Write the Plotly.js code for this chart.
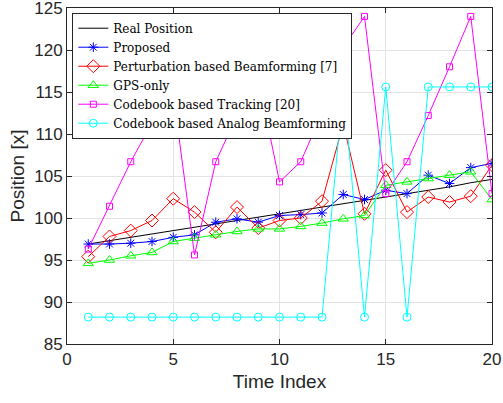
<!DOCTYPE html>
<html>
<head>
<meta charset="utf-8">
<script src="https://cdn.plot.ly/plotly-3.0.1.min.js"></script>
<style>
  html, body { margin: 0; padding: 0; background: #fff; }
  #chart { width: 503px; height: 403px; }
</style>
</head>
<body>
<div id="chart"></div>
<script>
// Time steps
const timeIndex = [1, 2, 3, 4, 5, 6, 7, 8, 9, 10, 11, 12, 13, 14, 15, 16, 17, 18, 19, 20];

// Position estimates per method
const realPosition = [96.9, 97.3, 97.7, 98.1, 98.5, 98.9, 99.3, 99.7, 100.1, 100.5,
                      100.9, 101.3, 101.7, 102.1, 102.5, 102.9, 103.3, 103.7, 104.2, 104.6];
const proposed = [96.9, 96.9, 97.0, 97.2, 97.7, 98.0, 99.5, 99.9, 99.5, 100.3,
                  100.4, 100.6, 102.8, 102.2, 103.3, 102.9, 105.1, 104.1, 106.0, 106.5];
const perturbation = [95.4, 97.8, 98.5, 99.7, 102.3, 100.7, 98.3, 101.3, 98.8, 99.7,
                      100.0, 102.0, 111.2, 100.5, 105.7, 100.7, 102.5, 101.9, 102.6, 106.3];
const gpsOnly = [94.6, 95.0, 95.5, 95.9, 97.2, 97.6, 98.0, 98.4, 98.7, 98.7,
                 99.0, 99.4, 99.9, 100.3, 103.9, 104.3, 104.7, 105.1, 105.5, 102.2];
const codebookTracking = [96.3, 101.4, 106.7, 111.3, 114.8, 95.6, 106.7, 112.2, 116.6, 104.3,
                          106.7, 112.5, 120.3, 124.0, 102.9, 106.7, 112.2, 118.0, 124.0, 102.9];
const codebookAnalog = [88.2, 88.2, 88.2, 88.2, 88.2, 88.2, 88.2, 88.2, 88.2, 88.2,
                        88.2, 88.2, 115.6, 88.2, 115.6, 88.2, 115.6, 115.6, 115.6, 115.6];

const seriesNames = [
  'Real Position',
  'Proposed',
  'Perturbation based Beamforming [7]',
  'GPS-only',
  'Codebook based Tracking [20]',
  'Codebook based Analog Beamforming'
];

const xTicks = [0, 5, 10, 15, 20];
const yTicks = [85, 90, 95, 100, 105, 110, 115, 120, 125];

function series(y, name, color, symbol, size) {
  const t = {
    x: timeIndex, y: y, name: name, type: 'scatter',
    mode: symbol ? 'lines+markers' : 'lines',
    line: { color: color, width: 1 }
  };
  if (symbol) {
    t.marker = { symbol: symbol, size: size, color: color, line: { color: color, width: 1 } };
  }
  return t;
}

const traces = [
  series(realPosition, seriesNames[0], '#000000', null, 0),
  series(proposed, seriesNames[1], '#0000ff', 'asterisk-open', 8),
  series(perturbation, seriesNames[2], '#ff0000', 'diamond-open', 10),
  series(gpsOnly, seriesNames[3], '#00ff00', 'triangle-up-open', 9),
  series(codebookTracking, seriesNames[4], '#ff00ff', 'square-open', 6),
  series(codebookAnalog, seriesNames[5], '#00ffff', 'circle-open', 8)
];

const axisCommon = {
  showline: true, linecolor: '#262626', linewidth: 1, mirror: 'ticks',
  ticks: 'inside', ticklen: 5, tickcolor: '#262626',
  showgrid: true, gridcolor: '#e3e3e3', gridwidth: 1,
  zeroline: false, ticklabeloverflow: 'allow',
  tickfont: { family: 'Liberation Sans, Arial, sans-serif', size: 17, color: '#262626' }
};

const layout = {
  width: 503, height: 403,
  margin: { l: 67, r: 11, t: 8, b: 59 },
  paper_bgcolor: '#ffffff', plot_bgcolor: '#ffffff',
  showlegend: true,
  xaxis: Object.assign({}, axisCommon, {
    range: [0, 20], tickvals: xTicks, ticktext: xTicks.map(String),
    title: { text: 'Time Index', standoff: 6,
             font: { family: 'Liberation Sans, Arial, sans-serif', size: 19, color: '#262626' } }
  }),
  yaxis: Object.assign({}, axisCommon, {
    range: [85, 125], tickvals: yTicks, ticktext: yTicks.map(String),
    title: { text: 'Position [x]', standoff: 4,
             font: { family: 'Liberation Sans, Arial, sans-serif', size: 19, color: '#262626' } }
  }),
  legend: {
    x: 0.0125, y: 0.986, xanchor: 'left', yanchor: 'top',
    bgcolor: '#ffffff', bordercolor: '#262626', borderwidth: 1,
    font: { family: 'DejaVu Serif, serif', size: 12, color: '#000000' },
    itemwidth: 30, tracegroupgap: 0
  }
};

Plotly.newPlot('chart', traces, layout, { staticPlot: true, displayModeBar: false });
</script>
</body>
</html>
